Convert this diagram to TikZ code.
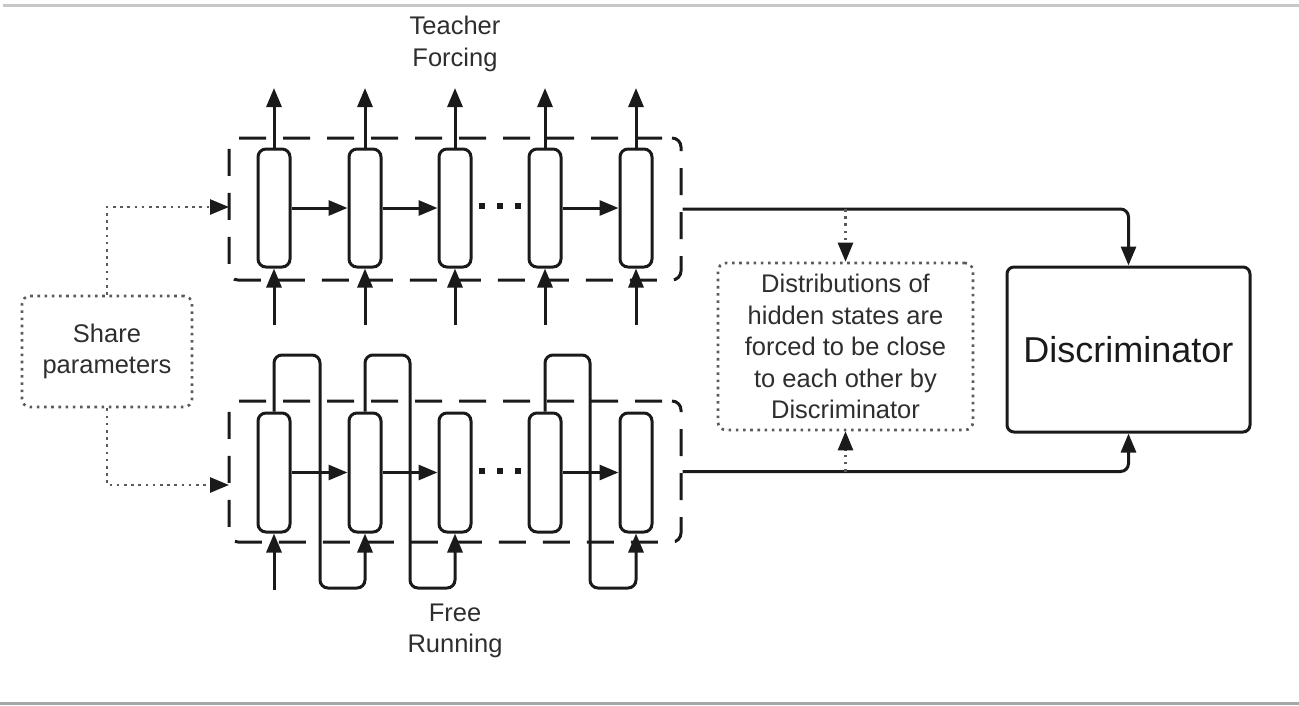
\documentclass[tikz,border=0pt]{standalone}
\usepackage{fontspec}
\setmainfont{Liberation Sans}
\usetikzlibrary{arrows.meta}
\definecolor{ink}{HTML}{1A1A1A}
\definecolor{txt}{HTML}{2E2E2E}
\definecolor{dotc}{HTML}{5A5A5A}
\begin{document}
\begin{tikzpicture}[x=1pt,y=-1pt,
  cell/.style={draw=ink, line width=3pt, rounded corners=8pt, minimum width=32pt, minimum height=118pt, inner sep=0pt},
  rnnbox/.style={draw=ink, line width=3pt, dash pattern=on 27pt off 17pt, dash phase=-10pt, rounded corners=9pt, minimum width=452pt, minimum height=142pt, inner sep=0pt},
  conn/.style={draw=ink, line width=3pt, rounded corners=8pt},
  tip/.style={-{Triangle[length=19pt,width=15pt]}},
  arr/.style={conn, tip},
  dotline/.style={draw=dotc, line width=2.6pt, dash pattern=on 2.6pt off 4.6pt},
  dotarr/.style={dotline, -{Triangle[length=19pt,width=15pt,fill=ink,color=ink]}},
  dotbox/.style={draw=dotc, line width=2.6pt, dash pattern=on 2.6pt off 4.6pt, rounded corners=8pt, inner sep=0pt, align=center, text=txt, font=\fontsize{25.5}{31.5}\selectfont},
  lbl/.style={font=\fontsize{25.5}{31.5}\selectfont, align=center, text=txt, inner sep=0pt},
  dotsq/.style={fill=ink}
]
\useasboundingbox (0,0) rectangle (1299,705);
% page rules
\draw[black!22, line width=3pt] (3,5.5) -- (1299,5.5);
\draw[black!35, line width=3pt] (0,703.5) -- (1299,703.5);

% RNN frames
\node[rnnbox] (tf) at (455,209) {};
\node[rnnbox, minimum height=141pt] (fr) at (455,471.5) {};

% cells
\foreach \i/\x in {1/274,2/365,3/455,4/545,5/636}{
  \node[cell] (t\i) at (\x,208) {};
  \node[cell, minimum height=119pt] (f\i) at (\x,472.5) {};
  \coordinate (ti\i) at (\x,325);
  \coordinate (to\i) at (\x,88);
}

% top row connections
\foreach \i in {1,...,5}{
  \draw[arr] (ti\i) -- (t\i.south);
  \draw[arr] (t\i.north) -- (to\i);
}
\draw[arr] (t1) -- (t2);
\draw[arr] (t2) -- (t3);
\draw[arr] (t4) -- (t5);

% bottom row connections
\draw[arr] (f1) -- (f2);
\draw[arr] (f2) -- (f3);
\draw[arr] (f4) -- (f5);
\coordinate (fi1) at (274,590);
\draw[arr] (fi1) -- (f1.south);
\coordinate (la1) at (320,355); \coordinate (lb1) at (365,588);
\coordinate (la2) at (410,355); \coordinate (lb2) at (455,588);
\coordinate (la4) at (590,355); \coordinate (lb4) at (636,588);
\draw[arr] (f1.north) |- (la1) |- (lb1) -- (f2.south);
\draw[arr] (f2.north) |- (la2) |- (lb2) -- (f3.south);
\draw[arr] (f4.north) |- (la4) |- (lb4) -- (f5.south);

% ellipsis dots
\foreach \x in {482,500,518}{
  \fill[dotsq] (\x-3,206-3) rectangle ++(6,6);
  \fill[dotsq] (\x-3,470.5-3) rectangle ++(6,6);
}

% labels
\node[lbl] (tflbl) at (455,44) {Teacher\\Forcing};
\node[lbl] (frlbl) at (455,631) {Free\\Running};

% share parameters
\node[dotbox, minimum width=170pt, minimum height=111pt] (share) at (107,351.5) {Share\\parameters};
\coordinate (frin) at (229,485);
\coordinate (tfin) at (229,207);
\draw[dotarr] (share.north) |- (tfin);
\draw[dotarr] (share.south) |- (frin);

% distribution note
\node[dotbox, minimum width=255pt, minimum height=167pt] (dist) at (845.5,346.5)
  {Distributions of\\hidden states are\\forced to be close\\to each other by\\Discriminator};

% discriminator
\node[draw=ink, line width=3pt, rounded corners=7pt, minimum width=243pt, minimum height=165pt, inner sep=0pt, text=ink, font=\fontsize{36}{40}\selectfont] (disc) at (1128.5,349.5) {Discriminator};

\draw[arr] (tf.east) -| (disc.north);
\draw[arr] (fr.east) -| (disc.south);
\coordinate (d1) at (845.5,209);
\coordinate (d2) at (845.5,471.5);
\draw[dotarr] (d1) -- (dist.north);
\draw[dotarr] (d2) -- (dist.south);
\end{tikzpicture}
\end{document}
